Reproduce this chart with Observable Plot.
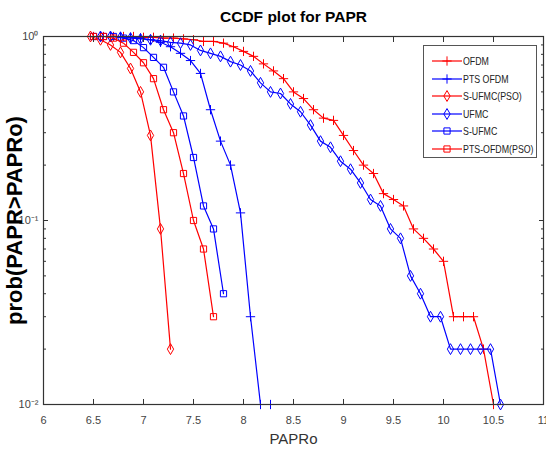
<!DOCTYPE html>
<html><head><meta charset="utf-8">
<script src="https://cdn.jsdelivr.net/npm/d3@7"></script>
<script src="https://cdn.jsdelivr.net/npm/@observablehq/plot@0.6"></script>
<style>
body{margin:0;background:#fff;}
#wrap{position:relative;width:546px;height:456px;}
#legend{position:absolute;left:423px;top:45px;width:114px;height:113px;border:1.5px solid #555;background:#fff;box-sizing:border-box;font-family:"Liberation Sans",Arial,sans-serif;font-size:10.5px;color:#222;}
#legend .row{position:absolute;left:0;height:16px;display:flex;align-items:center;white-space:nowrap;}
#legend svg{display:block;flex:none;}
#legend span{display:inline-block;transform:scaleX(0.84);transform-origin:left center;white-space:nowrap;}
</style></head><body><div id="wrap"></div>
<script>
// ---- data ----
const xTicks = [6, 6.5, 7, 7.5, 8, 8.5, 9, 9.5, 10, 10.5, 11];
const yMajor = [1, 0.1, 0.01];
const yMinor = [0.02,0.03,0.04,0.05,0.06,0.07,0.08,0.09,0.2,0.3,0.4,0.5,0.6,0.7,0.8,0.9];

const ofdmX = [6.5,6.6,6.7,6.8,6.9,7.0,7.1,7.2,7.3,7.4,7.5,7.6,7.7,7.8,7.9,8.0,8.1,8.2,8.3,8.4,8.5,8.6,8.7,8.8,8.9,9.0,9.1,9.2,9.3,9.4,9.5,9.6,9.7,9.8,9.9,10.0,10.1,10.2,10.3,10.4,10.5];
const ofdmY = [1,1,1,1,1,0.99,0.99,0.98,0.98,0.97,0.96,0.94,0.94,0.92,0.88,0.83,0.78,0.71,0.65,0.59,0.50,0.46,0.40,0.36,0.35,0.29,0.24,0.20,0.18,0.14,0.13,0.12,0.09,0.08,0.07,0.06,0.03,0.03,0.03,0.02,0.01];

const ptsX = [6.57,6.67,6.77,6.87,6.97,7.07,7.17,7.27,7.37,7.47,7.57,7.67,7.77,7.87,7.97,8.07,8.17,8.27];
const ptsY = [1,1,1,0.99,0.98,0.96,0.93,0.88,0.81,0.74,0.63,0.40,0.27,0.20,0.11,0.03,0.01,0.01];

const sufmcPsoX = [6.47,6.57,6.67,6.77,6.87,6.97,7.07,7.17,7.27];
const sufmcPsoY = [1,0.96,0.90,0.82,0.67,0.50,0.29,0.09,0.02];

const ufmcX = [6.57,6.67,6.77,6.87,6.97,7.07,7.17,7.27,7.37,7.47,7.57,7.67,7.77,7.87,7.97,8.07,8.17,8.27,8.37,8.47,8.57,8.67,8.77,8.87,8.97,9.07,9.17,9.27,9.37,9.47,9.57,9.67,9.77,9.87,9.97,10.07,10.17,10.27,10.37,10.47,10.57];
const ufmcY = [1,1,0.99,0.98,0.97,0.96,0.95,0.93,0.92,0.90,0.84,0.81,0.78,0.73,0.70,0.65,0.56,0.50,0.49,0.43,0.39,0.33,0.27,0.25,0.21,0.19,0.16,0.13,0.12,0.09,0.08,0.05,0.04,0.03,0.03,0.02,0.02,0.02,0.02,0.02,0.01];

const sufmcX = [6.5,6.6,6.7,6.8,6.9,7.0,7.1,7.2,7.3,7.4,7.5,7.6,7.7,7.8];
const sufmcY = [1,1,1,0.98,0.95,0.87,0.77,0.68,0.50,0.37,0.22,0.12,0.09,0.04];

const ptsPsoX = [6.5,6.6,6.7,6.8,6.9,7.0,7.1,7.2,7.3,7.4,7.5,7.6,7.7];
const ptsPsoY = [1,1,0.98,0.92,0.82,0.72,0.59,0.40,0.30,0.18,0.10,0.07,0.03];

const names = ["OFDM","PTS OFDM","S-UFMC(PSO)","UFMC","S-UFMC","PTS-OFDM(PSO)"];
const colors = ["#ff0000","#0000ff","#ff0000","#0000ff","#0000ff","#ff0000"];
const symbols = ["plus","plus","diamond","diamond","square","square"];
const xs = [ofdmX, ptsX, sufmcPsoX, ufmcX, sufmcX, ptsPsoX];
const ys = [ofdmY, ptsY, sufmcPsoY, ufmcY, sufmcY, ptsPsoY];

// ---- build ----
const FONT = '"Liberation Sans",Arial,sans-serif';
const sup = {"0":"\u2070","1":"\u00b9","2":"\u00b2","-":"\u207b"};
const fmtPow = d => "10" + String(Math.round(Math.log10(d))).split("").map(c => sup[c]).join("");
const symR = {plus: 3.1, diamond: 3.3, square: 3.5};

const marks = [];
names.forEach((n, i) => {
  const data = xs[i].map((x, j) => ({x, y: ys[i][j]}));
  marks.push(Plot.line(data, {x: "x", y: "y", stroke: colors[i], strokeWidth: 1.2}));
  marks.push(Plot.dot(data, {x: "x", y: "y", symbol: () => symbols[i], r: symR[symbols[i]], stroke: colors[i], fill: "none", strokeWidth: 1}));
});

const chart = Plot.plot({
  width: 546, height: 456,
  marginLeft: 43, marginRight: 3, marginTop: 36, marginBottom: 52,
  style: {fontFamily: FONT, background: "#fff", overflow: "visible"},
  x: {domain: [6, 11]},
  y: {type: "log", domain: [0.01, 1]},
  symbol: {type: "identity"},
  marks: [
    ...marks,
    Plot.frame({stroke: "#333", strokeWidth: 1.2}),
    Plot.axisX({anchor: "bottom", ticks: xTicks, tickSize: -5, tickPadding: 17, tickFormat: d => String(d), fontSize: 11, stroke: "#333", fill: "#444", label: null}),
    Plot.axisX({anchor: "top", ticks: xTicks, tickSize: -5, tickFormat: () => "", stroke: "#333", label: null}),
    Plot.axisY({anchor: "left", ticks: yMajor, tickSize: -5, tickPadding: 10, tickFormat: fmtPow, fontSize: 11, stroke: "#333", fill: "#444", label: null}),
    Plot.axisY({anchor: "left", ticks: yMinor, tickSize: -3, tickFormat: () => "", stroke: "#333", label: null}),
    Plot.axisY({anchor: "right", ticks: yMajor, tickSize: -5, tickFormat: () => "", stroke: "#333", label: null}),
    Plot.axisY({anchor: "right", ticks: yMinor, tickSize: -3, tickFormat: () => "", stroke: "#333", label: null}),
    Plot.text(["CCDF plot for PAPR"], {frameAnchor: "top", dy: -19, lineAnchor: "middle", textAnchor: "middle", fontSize: 15.5, fontWeight: "bold", fill: "#000"}),
    Plot.text(["PAPRo"], {frameAnchor: "bottom", dy: 35, lineAnchor: "middle", textAnchor: "middle", fontSize: 15, fill: "#333"}),
    Plot.text(["prob(PAPR>PAPRo)"], {frameAnchor: "left", dx: -29, rotate: -90, lineAnchor: "middle", textAnchor: "middle", fontSize: 22, fontWeight: "bold", fill: "#000"})
  ]
});
const wrap = document.getElementById("wrap");
wrap.appendChild(chart);

// legend
const leg = document.createElement("div");
leg.id = "legend";
const rowTops = [7, 24.5, 42, 59.5, 77, 94.5];
names.forEach((n, i) => {
  const row = document.createElement("div");
  row.className = "row";
  row.style.top = rowTops[i] + "px";
  const s = d3.create("svg").attr("width", 39).attr("height", 16);
  s.append("line").attr("x1", 8).attr("x2", 38).attr("y1", 8).attr("y2", 8).attr("stroke", colors[i]).attr("stroke-width", 1.2);
  const sym = {plus: d3.symbolPlus, diamond: d3.symbolDiamond, square: d3.symbolSquare}[symbols[i]];
  const r = symR[symbols[i]];
  s.append("path").attr("transform", "translate(23,8)").attr("d", d3.symbol(sym, Math.PI * r * r)()).attr("fill", "none").attr("stroke", colors[i]);
  row.appendChild(s.node());
  const t = document.createElement("span");
  t.textContent = n;
  row.appendChild(t);
  leg.appendChild(row);
});
wrap.appendChild(leg);
</script></body></html>
